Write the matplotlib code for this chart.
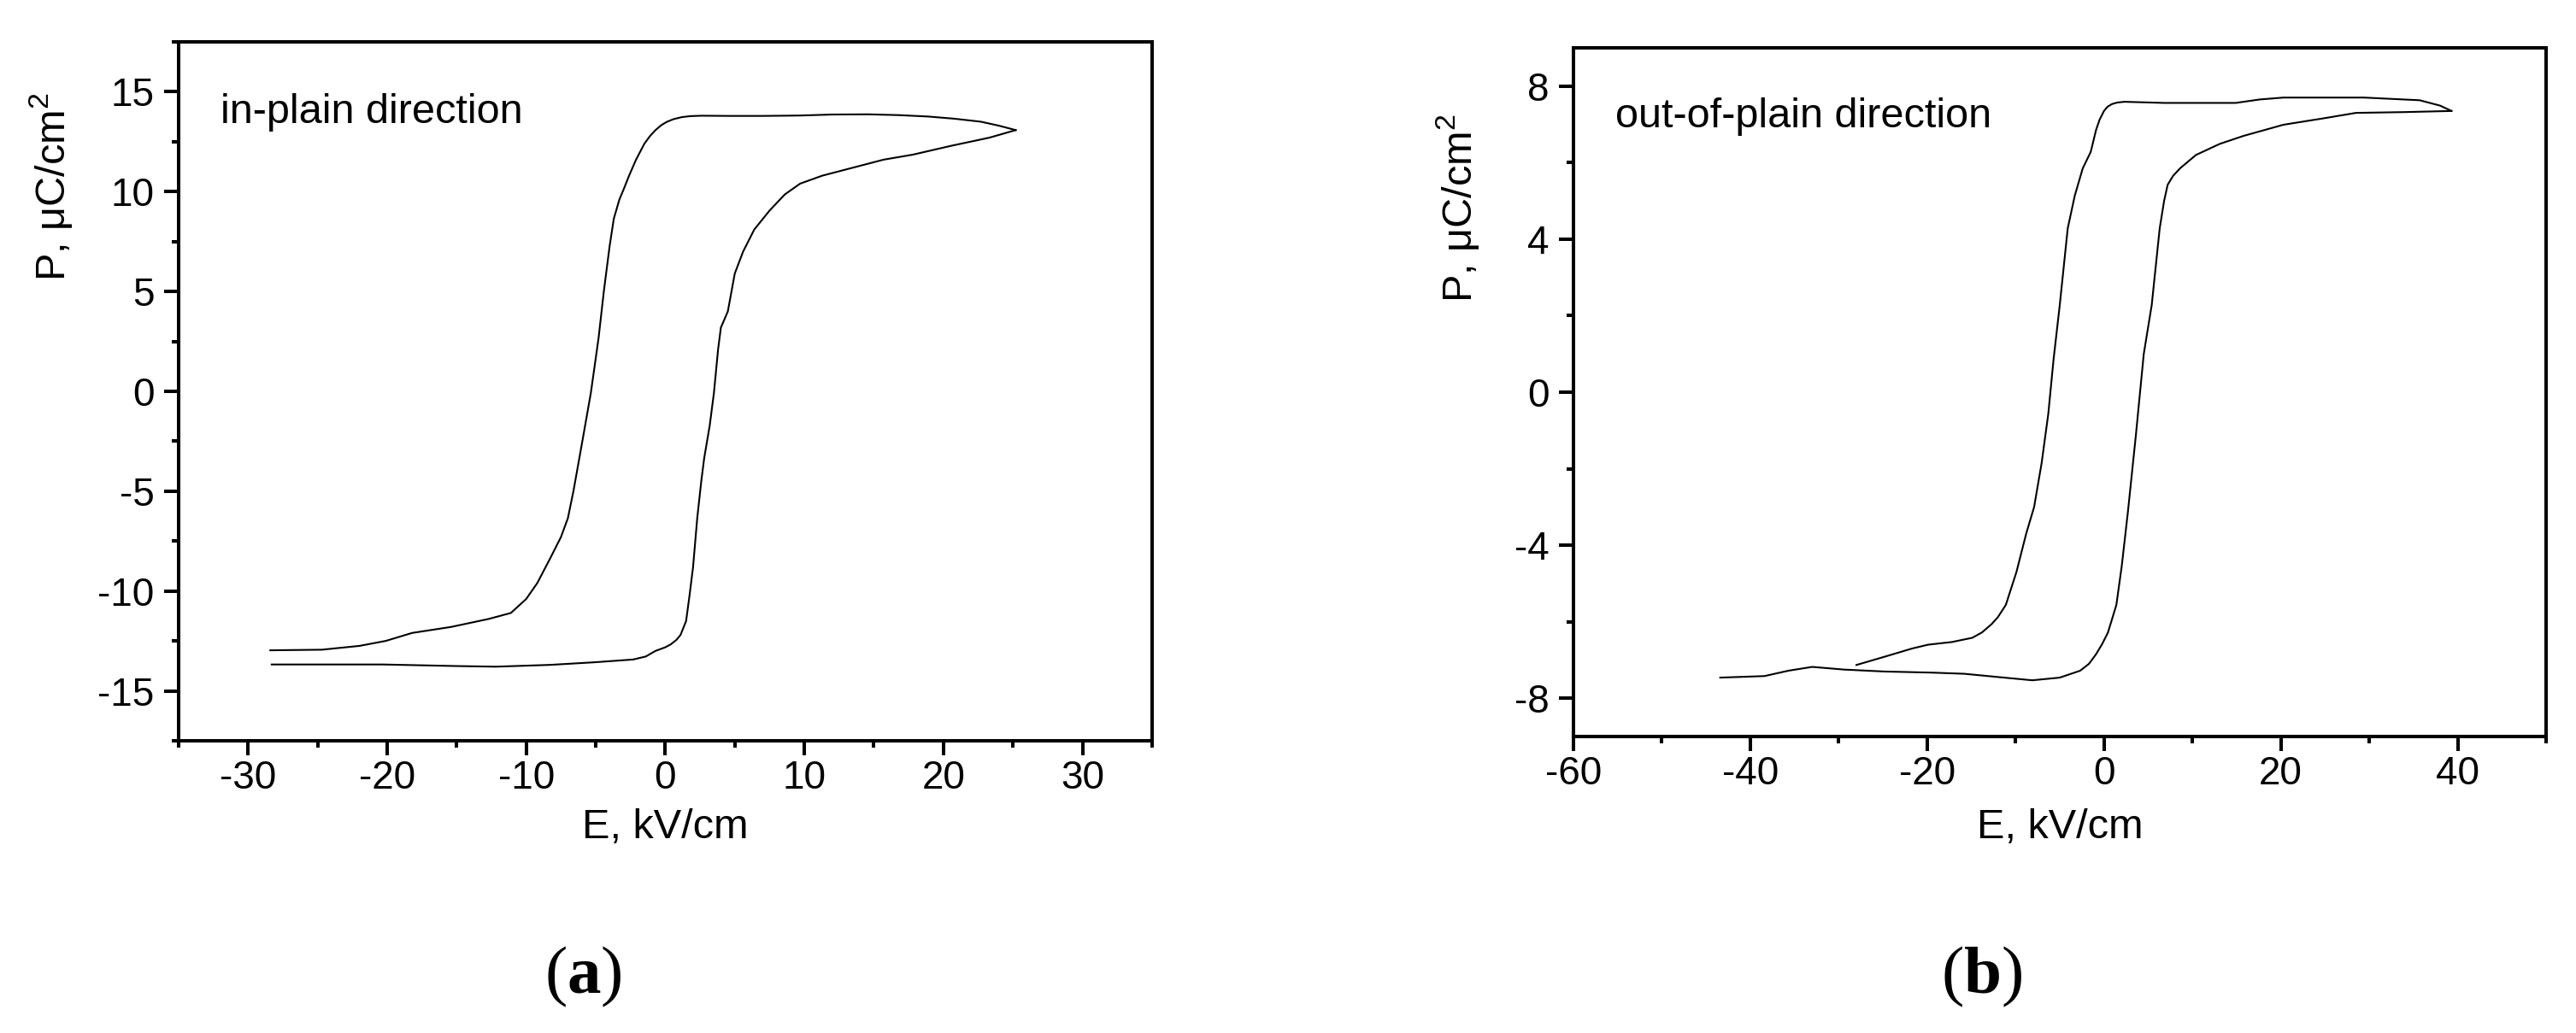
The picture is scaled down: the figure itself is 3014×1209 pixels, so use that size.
import numpy as np
import matplotlib
matplotlib.use("Agg")
import matplotlib.pyplot as plt
from matplotlib.ticker import MultipleLocator

plt.rc("font", family="Liberation Sans")
plt.rc("axes", unicode_minus=False)
plt.rc("mathtext", fontset="custom", rm="Liberation Sans", bf="Liberation Serif:bold")

# (a) in-plain direction: branch coming back from +E (upper) and going to +E (lower)
Ea_up = [25.2, 24.0, 22.7, 20.8, 18.9, 16.8, 14.6, 12.0, 9.7, 7.0, 4.7, 2.6, 1.8,
         1.2, 0.6, 0.1, -0.3, -0.7, -1.1, -1.5, -2.1, -2.6, -3.0, -3.3, -3.7, -4.0,
         -4.4, -4.8, -5.35, -5.9, -6.6, -7.0, -7.5, -8.3, -9.2, -10.0, -11.1, -12.7,
         -15.4, -18.2, -20.1, -22.0, -24.7, -28.4]
Pa_up = [13.08, 13.3, 13.5, 13.65, 13.76, 13.83, 13.87, 13.86, 13.81, 13.79, 13.79,
         13.8, 13.78, 13.73, 13.63, 13.49, 13.32, 13.08, 12.78, 12.4, 11.6, 10.8,
         10.1, 9.6, 8.64, 7.27, 5.1, 2.64, -0.08, -2.26, -4.99, -6.35, -7.3, -8.4,
         -9.6, -10.4, -11.1, -11.4, -11.8, -12.1, -12.5, -12.75, -12.94, -12.97]
Ea_dn = [-28.3, -20.3, -14.9, -12.2, -8.3, -5.1, -2.3, -1.4, -0.7, 0.0, 0.4, 0.8,
         1.1, 1.5, 1.75, 2.0, 2.3, 2.6, 2.8, 3.2, 3.5, 3.8, 4.0, 4.5, 5.0, 5.6, 6.4,
         7.5, 8.6, 9.7, 11.3, 13.5, 15.7, 17.8, 20.6, 23.3, 25.2]
Pa_dn = [-13.68, -13.68, -13.76, -13.79, -13.7, -13.57, -13.43, -13.28, -13.0,
         -12.82, -12.67, -12.45, -12.2, -11.5, -10.2, -8.8, -6.35, -4.44, -3.35,
         -1.7, -0.08, 2.1, 3.19, 4.0, 5.9, 7.0, 8.1, 9.05, 9.86, 10.4, 10.8, 11.2,
         11.6, 11.85, 12.3, 12.7, 13.08]

# (b) out-of-plain direction
Eb_up = [39.3, 38.0, 35.7, 29.4, 20.3, 17.6, 14.9, 6.8, 2.3, 1.5, 0.9, 0.4, 0.0,
         -0.5, -0.9, -1.5, -2.4, -3.3, -4.1, -5.0, -5.7, -6.3, -7.05, -7.9, -8.8,
         -9.9, -11.1, -12.0, -12.7, -13.8, -14.9, -17.2, -19.9, -21.7, -24.9, -28.0]
Pb_up = [7.35, 7.49, 7.63, 7.70, 7.70, 7.65, 7.56, 7.56, 7.59, 7.57, 7.53, 7.46,
         7.35, 7.12, 6.85, 6.28, 5.85, 5.14, 4.28, 2.28, 0.86, -0.57, -1.85, -3.0,
         -3.7, -4.7, -5.56, -5.88, -6.06, -6.28, -6.42, -6.53, -6.6, -6.7, -6.92,
         -7.13]
Eb_dn = [-43.4, -38.4, -35.7, -33.0, -29.4, -24.9, -19.4, -15.8, -11.3, -8.1, -5.0,
         -2.7, -1.7, -0.9, -0.2, 0.45, 1.4, 2.0, 2.7, 3.6, 4.5, 5.4, 6.3, 6.8, 7.2,
         7.8, 8.6, 10.4, 13.1, 15.8, 20.3, 24.9, 28.5, 33.9, 39.3]
Pb_dn = [-7.46, -7.42, -7.28, -7.18, -7.25, -7.30, -7.33, -7.36, -7.46, -7.53,
         -7.46, -7.28, -7.1, -6.85, -6.58, -6.28, -5.56, -4.56, -3.14, -1.14, 1.0,
         2.28, 4.28, 5.0, 5.42, 5.65, 5.85, 6.2, 6.49, 6.7, 6.99, 7.16, 7.3, 7.32,
         7.35]

fig = plt.figure(figsize=(30.14, 12.09), dpi=100)
ax1 = fig.add_axes([0.0693, 0.2829, 0.3779, 0.6766])
ax2 = fig.add_axes([0.6108, 0.2870, 0.3776, 0.6667])

panels = [
    (ax1, Ea_up, Pa_up, Ea_dn, Pa_dn, (-35, 35), (-17.5, 17.5), 10, 5, 5, 2.5,
     "in-plain direction", (-0.106, 0.792), -0.0966, "a", 0.2263),
    (ax2, Eb_up, Pb_up, Eb_dn, Pb_dn, (-60, 50), (-9, 9), 20, 10, 4, 2,
     "out-of-plain direction", (-0.094, 0.767), -0.104, "b", 0.7694),
]

for (ax, eu, pu, ed, pd, xlim, ylim, xmaj, xmin, ymaj, ymin,
     note, ylab_xy, xlab_y, letter, tag_x) in panels:
    ax.plot(eu, pu, color="black", linewidth=1.5)
    ax.plot(ed, pd, color="black", linewidth=1.5)
    ax.set_xlim(*xlim)
    ax.set_ylim(*ylim)
    ax.xaxis.set_major_locator(MultipleLocator(xmaj))
    ax.xaxis.set_minor_locator(MultipleLocator(xmin))
    ax.yaxis.set_major_locator(MultipleLocator(ymaj))
    ax.yaxis.set_minor_locator(MultipleLocator(ymin))
    for s in ax.spines.values():
        s.set_linewidth(2.9)
    ax.tick_params(which="both", direction="out", width=2.9, labelsize=33)
    ax.tick_params(which="major", length=12)
    ax.tick_params(which="minor", length=6)
    ax.tick_params(axis="x", pad=3.5)
    ax.tick_params(axis="y", pad=8.5)

    ax.set_xlabel("E, kV/cm", fontsize=35)
    ax.xaxis.set_label_coords(0.5, xlab_y)
    ax.set_ylabel("P, \u03bcC/cm$^{2}$", fontsize=35)
    ax.yaxis.set_label_coords(*ylab_xy)

    ax.text(0.043, 0.884, note, transform=ax.transAxes, fontsize=35,
            ha="left", va="baseline")

    fig.text(tag_x, 0.0389, "(" + r"$\mathbf{%s}$" % letter + ")",
             family="Liberation Serif", fontsize=57, ha="center", va="baseline")

fig.savefig("out.png", dpi=100)
